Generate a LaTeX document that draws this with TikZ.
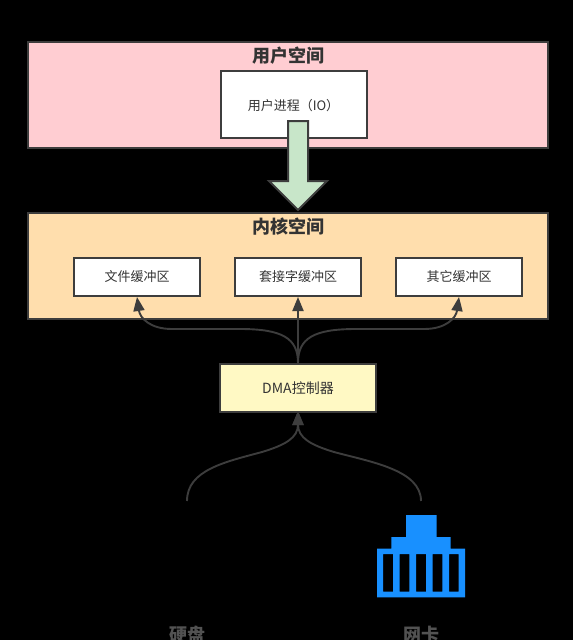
\documentclass[tikz,border=0pt]{standalone}
\usepackage{fontspec}
\setmainfont{Noto Sans CJK SC}
\usetikzlibrary{arrows.meta,positioning}
\definecolor{edge}{HTML}{3D3D3D}
\definecolor{txt}{HTML}{333333}
\definecolor{pinkbg}{HTML}{FFCDD2}
\definecolor{orangebg}{HTML}{FFDEAD}
\definecolor{yellowbg}{HTML}{FFF9C4}
\definecolor{greenbg}{HTML}{C8E6C9}
\definecolor{iconblue}{HTML}{1890FF}
\tikzset{
  x=1pt,y=-1pt,
  box/.style={draw=edge,line width=2pt,fill=#1,inner sep=0pt,text=txt,font=\fontsize{13}{15}\selectfont},
  box/.default=white,
  title/.style={text=txt,font=\fontsize{18}{20}\selectfont\bfseries,inner sep=0pt},
  link/.style={draw=edge,line width=1.9pt,-{Triangle[length=14pt,width=11pt]}},
  devlabel/.style={text=txt!85!white,font=\fontsize{18}{20}\selectfont\bfseries,inner sep=0pt},
}
\begin{document}
\begin{tikzpicture}
\useasboundingbox (0,0) rectangle (573,640);
\fill[black] (0,0) rectangle (573,640);
\clip (0,0) rectangle (573,640);
% user space
\node[box=pinkbg,minimum width=520pt,minimum height=106pt] (user) at (288,95) {};
\node[title] (usert) at (288,56) {用户空间};
\node[box,minimum width=146pt,minimum height=67pt] (proc) at (294,104.5) {};
\node[inner sep=0pt,text=txt,font=\fontsize{13}{15}\selectfont] (proct) at (293.5,106) {用户进程（IO）};
% kernel space
\node[box=orangebg,minimum width=520pt,minimum height=106pt] (kernel) at (288,266) {};
\node[title] (kernelt) at (288,227) {内核空间};
\node[box,minimum width=126pt,minimum height=38pt] (file) at (137,277) {文件缓冲区};
\node[box,minimum width=126pt,minimum height=38pt] (sock) at (298,277) {套接字缓冲区};
\node[box,minimum width=126pt,minimum height=38pt] (other) at (459,277) {其它缓冲区};
% dma
\node[box=yellowbg,minimum width=156pt,minimum height=48pt,font=\fontsize{14}{16}\selectfont] (dma) at (298,388) {DMA控制器};
% big arrow
\draw[draw=edge,line width=2pt,fill=greenbg,line join=miter]
  (288,121) -- (308,121) -- (308,181) -- (327,181) -- (298,210) -- (269,181) -- (288,181) -- cycle;
% connectors
\draw[link] (dma.north) .. controls (298,338) and (282,329) .. (240,329)
  -- (172,329) .. controls (150,329) and (140,318) .. (file.south);
\draw[link] (dma.north) -- (sock.south);
\draw[link] (dma.north) .. controls (298,338) and (314,329) .. (356,329)
  -- (424,329) .. controls (446,329) and (456,318) .. (other.south);
\coordinate (disk) at (187,501);
\coordinate (nic) at (421,501);
\draw[link] (disk) .. controls (187,470) and (225,462) .. (262,452)
  .. controls (285,445) and (298,438) .. ([yshift=2pt]dma.south);
\draw[link] (nic) .. controls (421,470) and (371,462) .. (334,452)
  .. controls (311,445) and (298,438) .. ([yshift=2pt]dma.south);
% nic icon
\fill[iconblue,even odd rule]
  (406,515) -- (436.7,515) -- (436.7,537) -- (450.7,537) -- (450.7,548.7) -- (465,548.7)
  -- (465,597.3) -- (377,597.3) -- (377,548.7) -- (391.3,548.7) -- (391.3,537) -- (406,537) -- cycle
  (383,554) rectangle (393,591.7)
  (399.7,554) rectangle (409.3,591.7)
  (416,554) rectangle (426,591.7)
  (432.7,554) rectangle (442.3,591.7)
  (449,554) rectangle (458.7,591.7);
% labels
\node[devlabel] (diskl) at (187,635) {硬盘};
\node[devlabel] (nicl) at (421,635) {网卡};
\end{tikzpicture}
\end{document}
